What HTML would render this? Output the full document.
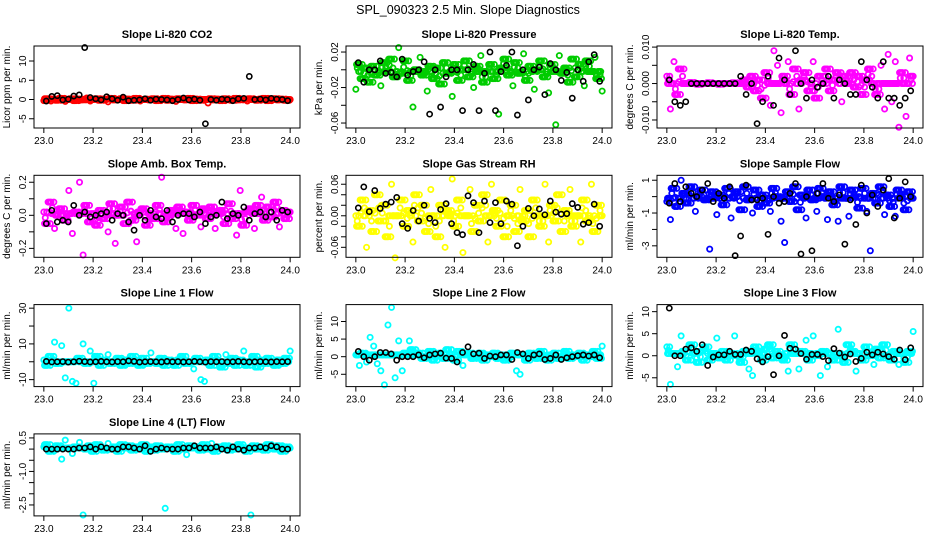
<!DOCTYPE html>
<html><head><meta charset="utf-8">
<style>
html,body{margin:0;padding:0;background:#fff;}
svg{display:block;font-family:"Liberation Sans",Arial,sans-serif;}
</style></head>
<body>
<svg id="chart" width="936" height="540" viewBox="0 0 936 540">
<text x="468" y="14" text-anchor="middle" font-size="12.5">SPL_090323  2.5 Min. Slope Diagnostics</text>
</svg>
<script>
const titles = ["Slope Li-820 CO2","Slope Li-820 Pressure","Slope Li-820 Temp.","Slope Amb. Box Temp.","Slope Gas Stream RH","Slope Sample Flow","Slope Line 1 Flow","Slope Line 2 Flow","Slope Line 3 Flow","Slope Line 4 (LT) Flow"];
const yTitles = ["Licor ppm per min.","kPa per min.","degrees C per min.","degrees C per min.","percent per min.","ml/min per min.","ml/min per min.","ml/min per min.","ml/min per min.","ml/min per min."];
const xTicks = [23.0,23.2,23.4,23.6,23.8,24.0];
const xTickLabels = ["23.0","23.2","23.4","23.6","23.8","24.0"];
const yTicks = [[-5,0,5,10],[-0.06,-0.04,-0.02,0,0.02],[-0.010,-0.005,0,0.005,0.010],[-0.2,-0.1,0,0.1,0.2],[-0.06,-0.04,-0.02,0,0.02,0.04,0.06],[-3,-2,-1,0,1],[-10,0,10,20,30],[-5,0,5,10],[-5,0,5,10],[-2.5,-2,-1.5,-1,-0.5,0,0.5]];
const yTickLabels = [["-5","0","5","10"],["-0.06","","-0.02","","0.02"],["-0.010","","0.000","","0.010"],["-0.2","","0.0","","0.2"],["-0.06","","","0.00","","","0.06"],["-3","","-1","","1"],["-10","","10","","30"],["-5","0","5","10"],["-5","0","5","10"],["-2.5","","","-1.0","","","0.5"]];
const yDomains = [[-7.4,13.9],[-0.0656,0.0268],[-0.0122,0.0103],[-0.254,0.242],[-0.079,0.077],[-3.7,1.3],[-13.9,32],[-8.5,14.8],[-7.0,11.6],[-2.99,0.68]];
const colors = ["#ff0000","#00cc00","#ff00ff","#ff00ff","#ffff00","#0000ff","#00ffff","#00ffff","#00ffff","#00ffff"];

const col0 = [-0.3,0.2,-0.4,0.1,-0.2,0.3,-0.5,0.0,0.2,-0.3,0.1,-0.1,0.4,-0.4,0.0,0.2,-0.2,0.1,-0.6,0.3,-0.1,0.0,0.2,-0.3,0.1,-0.2,0.3,-0.4,0.0,0.1,-0.1,0.2,-0.3,0.0,0.3,-0.2,0.1,-0.5,0.2,0.0,-0.1,0.3,-0.3,0.1,-0.2,0.0,-0.9,0.2,-0.1,0.1,-0.3,0.2,0.0,-0.2,0.3,-0.1,0.1,-0.4,0.2,0.0,-0.2,0.1,0.3,-0.3,0.0,0.2,-0.1,0.1,-0.2,0.0];
const blk0 = [-0.4,0.8,1.0,-0.1,0.1,0.9,1.2,13.5,0.5,0.2,-0.1,0.7,0.2,-0.2,0.6,-0.3,-0.2,-0.1,0.2,-0.2,0.1,0.0,-0.1,-0.3,0.0,0.4,-0.1,0.1,-0.2,-6.3,0.0,-0.2,0.1,0.0,-0.3,0.2,0.3,6.0,0.0,0.1,-0.1,0.3,0.1,0.0,-0.3];
const col1 = [-0.022,0.006,-0.010,0.002,-0.014,0.004,-0.006,-0.018,0.008,-0.002,0.012,-0.008,0.025,-0.004,0.010,-0.012,-0.042,0.000,0.014,-0.006,-0.024,0.004,-0.010,0.002,-0.016,0.008,-0.004,-0.030,0.006,-0.012,0.000,0.010,-0.008,-0.020,0.004,0.016,-0.014,-0.002,0.006,-0.010,-0.050,0.002,0.012,-0.006,-0.018,0.008,-0.004,0.018,-0.012,0.004,-0.022,0.000,0.010,-0.008,-0.026,0.006,-0.062,0.016,-0.004,0.002,-0.014,0.012,-0.008,0.006,-0.018,0.010,-0.002,0.014,-0.010,-0.024];
const blk1 = [0.008,-0.014,0.000,0.000,0.010,-0.004,-0.003,-0.008,0.012,-0.006,-0.002,0.000,0.009,-0.050,0.000,-0.042,-0.008,0.000,0.000,-0.046,0.000,0.006,-0.046,-0.004,0.020,-0.046,-0.002,0.005,0.020,-0.051,0.000,-0.034,0.000,0.003,-0.028,0.007,0.000,-0.012,-0.003,-0.032,0.000,-0.013,0.009,0.017,-0.013];
const col2 = [0.002,-0.007,0.006,-0.003,0.004,0.000,0.000,0.0003,0.000,-0.0002,0.000,0.000,0.0002,0.000,0.000,-0.0002,0.000,0.000,0.000,0.0002,0.000,0.000,0.001,-0.001,0.002,-0.002,0.001,-0.004,0.003,-0.006,0.009,0.005,-0.008,0.002,0.006,-0.003,0.004,-0.007,0.001,0.003,-0.002,0.006,-0.004,0.002,0.000,0.004,-0.002,0.001,0.003,-0.005,0.002,0.000,0.003,-0.001,0.002,-0.003,0.001,0.004,0.000,-0.003,0.005,-0.007,0.008,-0.005,0.006,-0.012,0.003,-0.009,0.007,0.002];
const blk2 = [0.001,-0.005,-0.006,-0.005,0.000,0.000,0.000,0.000,0.000,0.000,0.000,0.000,0.000,0.002,-0.003,0.000,-0.011,-0.005,0.002,-0.006,0.007,0.001,-0.003,0.009,0.000,-0.004,0.001,-0.001,0.000,0.002,-0.004,0.001,0.000,-0.003,-0.003,0.006,0.001,-0.001,-0.004,0.006,-0.004,-0.004,-0.006,-0.004,-0.002];
const col3 = [0.02,-0.05,0.08,-0.08,0.00,0.04,-0.03,0.15,-0.11,0.02,0.20,-0.24,0.06,-0.04,0.01,-0.06,0.03,-0.02,-0.10,0.07,-0.17,0.00,0.05,-0.05,0.08,-0.03,-0.16,0.02,0.04,-0.06,0.01,-0.02,0.06,0.23,-0.04,0.00,0.03,-0.08,0.05,-0.11,0.02,-0.03,0.06,0.00,-0.07,0.04,-0.02,0.05,-0.08,0.01,0.03,-0.05,0.07,-0.02,-0.12,0.15,-0.06,0.02,0.04,-0.08,0.06,0.11,-0.03,0.05,-0.01,0.08,-0.07,0.03,-0.02,0.02];
const blk3 = [-0.05,0.03,-0.04,-0.03,-0.04,0.06,0.00,0.02,-0.01,0.00,0.01,0.02,-0.03,0.01,0.00,-0.04,-0.09,0.00,-0.03,0.03,-0.01,-0.02,0.03,-0.04,0.00,0.01,0.01,-0.01,0.02,-0.05,-0.01,0.00,0.08,-0.02,0.01,0.00,0.05,-0.03,0.01,0.02,-0.01,0.02,-0.03,0.03,0.02];
const col4 = [0.00,-0.02,0.03,-0.06,0.01,-0.03,0.04,-0.01,0.02,-0.04,0.06,-0.08,0.00,0.03,-0.02,0.01,-0.05,0.04,-0.01,0.02,-0.03,0.05,0.00,-0.04,0.02,-0.06,0.01,0.07,-0.02,0.03,-0.07,0.00,0.05,-0.03,0.02,-0.01,0.04,-0.05,0.06,0.01,-0.02,0.03,-0.04,0.00,0.02,-0.03,0.05,-0.01,0.01,-0.04,0.03,0.00,-0.02,0.06,-0.05,0.02,-0.01,0.04,-0.03,0.01,0.05,-0.02,0.00,-0.05,0.03,-0.01,0.06,-0.03,0.02,0.00];
const blk4 = [0.015,0.055,0.008,0.048,0.014,0.022,0.026,0.035,-0.015,-0.024,0.010,-0.010,0.020,-0.005,-0.013,0.012,0.023,-0.015,-0.032,-0.036,0.038,0.025,-0.032,0.028,-0.013,0.025,-0.015,0.028,0.022,-0.057,-0.020,0.014,0.000,0.013,0.002,0.028,0.007,0.003,0.004,0.023,0.016,-0.016,-0.013,0.022,-0.020];
const col5 = [-0.3,-1.4,0.5,-0.6,1.0,0.2,-0.4,0.6,-0.9,0.0,0.4,-0.2,-3.2,0.3,-1.1,0.1,-0.5,0.5,-1.3,0.0,0.3,-0.8,0.6,-0.2,-1.0,0.4,-0.6,0.1,-0.4,-0.9,0.5,0.0,-1.5,-2.8,0.3,-0.3,0.6,-0.8,0.1,-1.3,0.4,-0.2,-0.9,0.5,0.0,-1.4,0.3,-0.5,-1.5,0.6,-0.1,-1.2,0.4,0.0,-0.7,0.5,-0.9,-3.3,0.2,-0.4,0.6,-1.1,0.1,-0.6,-1.2,0.4,0.0,-0.8,0.3,-0.1];
const blk5 = [-0.4,0.8,-0.3,0.6,0.2,0.0,0.4,0.8,-0.3,0.2,-0.1,0.6,-3.6,-2.4,0.7,-0.2,-0.2,-0.1,-2.3,0.0,-0.4,-0.3,0.2,0.8,-3.5,0.0,-3.3,0.2,0.8,-0.1,-0.3,0.1,-2.9,-0.2,-1.7,0.7,-1.0,0.1,-0.6,0.4,1.1,-1.3,-0.1,0.9,0.0];
const col6 = [1,-2,3,11,-1,9,-9,30,-11,-12,2,10,-1,6,-12,3,-2,1,4,-1,0,2,-2,1,-1,3,0,-2,2,-1,5,0,-1,2,-2,1,0,-2,1,3,-1,0,-4,2,-10,-11,1,-2,3,0,-3,4,-1,2,-2,1,6,-2,0,3,-3,1,-1,2,0,-2,1,-1,2,6];
const blk6 = [0.2,-0.1,0,0.1,-0.2,0,0.3,0.1,-0.1,0,0.2,0,-0.1,0.1,0,0.5,0.2,-0.2,0,0.1,0,-0.1,0.2,0,0.1,-0.1,0,0.2,0,-0.2,0.1,0,0.1,-0.1,0,0.2,0,-0.1,0,0.1,0,-0.1,0.1,0,0.1];
const col7 = [0.5,-2.5,1,-1.5,5.5,3,-2,-4,-8,9,14,-6,4.5,-4,1,4.5,2,0.5,1,-0.5,0,1.5,-1,0.5,1,-0.5,2,0,-1,1.5,-2.5,0.5,1,-0.5,0,1,-1,0.5,0,1,-0.5,0.5,-1,0,1,-4,-5,0.5,-1,1,0.5,-0.5,1.5,0,-1,0.5,1,-0.5,0,1.5,-0.5,0.5,0,1,-1,0.5,0,1.5,-0.5,3];
const blk7 = [1.5,0,-1,0,1.2,1.2,0.8,-1,0,0,0,0.5,-0.3,0.5,0.8,1,-0.4,-0.5,-1.5,1.2,2.8,0.8,1,-0.5,0.2,0,0.5,0.5,-0.8,1.2,0.8,-0.5,0.5,0.8,-0.8,-0.5,0.5,-0.8,-0.3,0,0.3,0.5,0.2,0.5,-0.3];
const col8 = [2,-6.5,0.5,-2.5,4.5,1,-1,2.5,0.5,-1.5,1,2,-1,0.5,4,-0.5,1,-1,0.5,4.5,0,-1.5,1,-3,-4.5,2,0.5,-1,1.5,2.5,-0.5,1,0,-1,-3.5,2.5,0.5,-3,1,3.5,-1,4.5,0,-4.5,1,-2.5,0.5,-1,6,0,-1.5,2.5,1,-3.5,0.5,-1,2,0,-2,1.5,-0.5,2.5,0,-1,1,-2,0.5,-1.5,1,5.5];
const blk8 = [10.8,0,0,1.5,1.8,1,2.5,-2.2,-0.3,0.2,0.2,1,0.3,0.3,1.3,1,-0.7,-1.4,-0.2,-4.3,0,4.6,1.7,1.5,0.5,-0.8,0.3,0.3,-0.2,-1.1,1.6,0.6,-0.3,0.4,-1.3,-0.6,0.8,0.2,0.8,0.4,-0.2,-0.8,1.3,-0.9,1.8];
const col9 = [0.1,0.2,-0.1,0.0,0.15,-0.45,0.4,0.05,-0.2,0.1,0.3,-2.95,0.0,0.15,-0.1,0.2,0.05,-0.05,0.25,0.0,0.1,-0.1,0.2,0.05,0.15,-0.05,0.1,0.0,0.2,-0.1,0.1,-0.05,0.15,0.0,-2.65,0.1,0.05,-0.1,0.2,0.0,-0.25,0.15,0.05,0.1,-0.05,0.2,0.0,0.25,-0.1,0.1,0.05,0.15,-0.05,0.1,0.0,0.2,0.05,-0.1,-2.95,0.15,0.0,0.1,-0.05,0.2,0.05,0.0,0.15,-0.1,0.1,0.05];
const blk9 = [0.0,0.0,0.0,0.0,0.0,0.0,0.05,0.05,0.1,0.0,0.1,0.05,0.0,0.0,0.1,0.1,0.05,0.0,0.15,-0.1,0.0,0.05,0.0,0.0,0.0,0.05,0.05,0.15,0.05,0.05,0.05,0.1,0.0,-0.05,0.1,0.0,-0.05,0.05,0.05,0.1,0.05,0.15,0.1,0.0,0.0];

const colored = [col0,col1,col2,col3,col4,col5,col6,col7,col8,col9];
const black = [blk0,blk1,blk2,blk3,blk4,blk5,blk6,blk7,blk8,blk9];

const NS = "http://www.w3.org/2000/svg";
const svg = document.getElementById("chart");
const LEFTS = [34,346,657], W = 266, H = 82;
function mk(tag, attrs, parent){const e=document.createElementNS(NS,tag);for(const k in attrs)e.setAttribute(k,attrs[k]);parent.appendChild(e);return e;}

for (let p=0;p<10;p++){
  const c=p%3, r=Math.floor(p/3);
  const L=LEFTS[c], T=46+129.3*r, B=T+H, R=L+W;
  const g=mk("g",{},svg);
  
  
  const xScale=v=>L+(W*0.037)+(v-23)/1.0*(W*0.926);
  const [y0,y1]=yDomains[p];
  const yScale=v=>B-(v-y0)/(y1-y0)*H;
  const t=mk("text",{x:(L+R)/2,y:T-8,"text-anchor":"middle","font-size":"11","font-weight":"bold"},g);
  t.textContent=titles[p];
  
  
  const yt=mk("text",{x:0,y:0,"text-anchor":"middle","font-size":"10",transform:`translate(${L-24},${(T+B)/2}) rotate(-90)`},g);
  yt.textContent=yTitles[p];
  
  
  xTicks.forEach((v,i)=>{
    const x=xScale(v);
    mk("line",{x1:x,y1:B,x2:x,y2:B+5,stroke:"#000","stroke-width":1},g);
    const lt=mk("text",{x:x,y:B+16,"text-anchor":"middle","font-size":"10"},g);
    lt.textContent=xTickLabels[i];
    
    
  });
  yTicks[p].forEach((v,i)=>{
    const y=yScale(v);
    mk("line",{x1:L-5,y1:y,x2:L,y2:y,stroke:"#000","stroke-width":1},g);
    if(yTickLabels[p][i]){
      const lt=mk("text",{x:0,y:0,"text-anchor":"middle","font-size":"10",transform:`translate(${L-8},${y}) rotate(-90)`},g);
      lt.textContent=yTickLabels[p][i];
      
      
    }
  });
  const cv=colored[p];
  // band fill: values near the median get densified between neighbours
  const sorted=[...cv].sort((a,b)=>a-b);
  const med=sorted[Math.floor(sorted.length/2)];
  const dev=cv.map(v=>Math.abs(v-med)).sort((a,b)=>a-b);
  const thr=dev[Math.floor(dev.length*0.7)]*1.05+1e-9;
  const inBand=v=>Math.abs(v-med)<=thr;
  cv.forEach((v,i)=>{
    if(i===cv.length-1) return;
    const n=cv[i+1];
    const a=inBand(v)?v:med, b=inBand(n)?n:med;
    const ys=[a,(a+b)/2+(b-a)*0.5, (a+b)/2, b, (a+b)/2-(b-a)*0.5];
    for(let k=1;k<=4;k++){
      const x=xScale(23+(i+k/5)/(cv.length-1));
      const yv=ys[k%ys.length];
      const pt=mk("circle",{cx:x,cy:yScale(yv),r:2.6,fill:"none",stroke:colors[p],"stroke-width":1.8},g);
      
      
    }
  });
  cv.forEach((v,i)=>{
    const x=xScale(23+i/(cv.length-1));
    const pt=mk("circle",{cx:x,cy:yScale(v),r:2.6,fill:"none",stroke:colors[p],"stroke-width":1.8},g);
    
    
  });
  const bv=black[p];
  bv.forEach((v,i)=>{
    const x=xScale(23.01+0.98*i/(bv.length-1));
    const pt=mk("circle",{cx:x,cy:yScale(v),r:2.6,fill:"none",stroke:"#000","stroke-width":1.6},g);
    
    
  });
  const box=mk("rect",{x:L,y:T,width:W,height:H,fill:"none",stroke:"#000","stroke-width":1},g);
  
  
}
</script>
</body></html>
